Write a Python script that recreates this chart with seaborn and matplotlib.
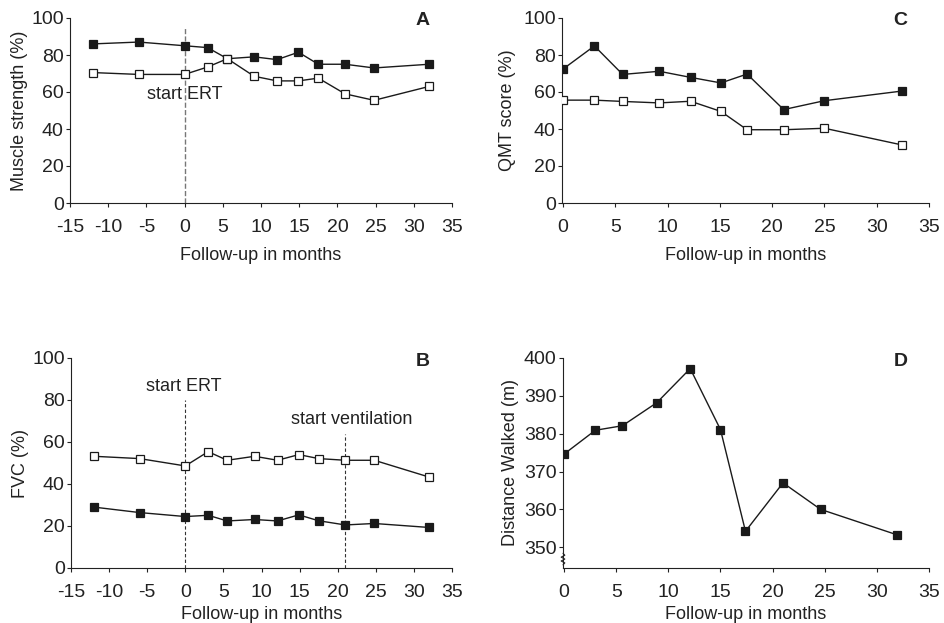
import numpy as np
import pandas as pd
import matplotlib
matplotlib.use("Agg")
import matplotlib.pyplot as plt
import seaborn as sns

sns.set_style("ticks")
plt.rcParams["font.family"] = ["Liberation Sans", "DejaVu Sans"]
plt.rcParams["axes.unicode_minus"] = False
plt.rcParams["text.color"] = "#222222"
plt.rcParams["axes.labelcolor"] = "#222222"
plt.rcParams["xtick.color"] = "#222222"
plt.rcParams["ytick.color"] = "#222222"

# Panel A: muscle strength (%)
months_a = [-12, -6, 0, 3, 5.6, 9.1, 12.1, 14.9, 17.5, 21.0, 24.8, 32.0]
strength_filled = [86, 87, 85, 84, 78, 79, 77.5, 81.5, 75, 75, 73, 75]
strength_open = [70.5, 69.5, 69.5, 73.5, 78, 68.5, 66, 66, 67.5, 59, 55.5, 63]

# Panel B: FVC (%)
months_b = [-12, -6, 0, 3, 5.5, 9.1, 12.1, 14.9, 17.5, 21.0, 24.8, 32.0]
fvc_open = [53.2, 52.1, 48.6, 55.4, 51.3, 53.2, 51.3, 54.0, 52.1, 51.3, 51.3, 43.3]
fvc_filled = [29.0, 26.4, 24.5, 25.1, 22.4, 23.1, 22.4, 25.3, 22.5, 20.5, 21.2, 19.3]

# Panel C: QMT score (%)
months_c = [0, 3, 5.7, 9.2, 12.2, 15.1, 17.6, 21.1, 25.0, 32.4]
qmt_filled = [72.4, 84.9, 69.5, 71.2, 67.9, 64.9, 69.7, 50.5, 55.3, 60.5]
qmt_open = [55.6, 55.6, 54.9, 54.1, 55.0, 49.5, 39.6, 39.6, 40.4, 31.4]

# Panel D: distance walked (m)
months_d = [0, 3.0, 5.6, 8.9, 12.1, 15.0, 17.4, 21.0, 24.6, 31.9]
distance = [374.6, 380.9, 382.1, 388.2, 397.2, 381.1, 354.2, 367.0, 360.0, 353.3]

fig = plt.figure(figsize=(9.44, 6.23), dpi=100)
W, H = 944, 623


def add_axes(left, right, top, bottom):
    return fig.add_axes([left / W, 1 - bottom / H, (right - left) / W, (bottom - top) / H])


ax_a = add_axes(70, 452, 18, 203)
ax_c = add_axes(562, 929, 18, 203)
ax_b = add_axes(71, 452, 358, 568)
ax_d = add_axes(563, 929, 358, 568)

LABEL_FS = 13
TICK_FS = 14
NOTE_FS = 13
INK = "#1a1a1a"


def series(ax, x, y, filled):
    df = pd.DataFrame({"x": x, "y": y})
    sns.lineplot(
        data=df, x="x", y="y", ax=ax, sort=False, errorbar=None,
        color=INK, linewidth=1.0, marker="s", markersize=5.5,
        markerfacecolor=INK if filled else "white",
        markeredgecolor=INK, markeredgewidth=0.9, zorder=3,
    )


def style(ax, xlim, xticks, ylim, yticks, ylabel, letter, ylabelpad, xlabelpad):
    ax.set_xlim(*xlim)
    ax.set_ylim(*ylim)
    ax.set_xticks(xticks)
    ax.set_yticks(yticks)
    ax.set_xlabel("Follow-up in months", fontsize=LABEL_FS, labelpad=xlabelpad)
    ax.set_ylabel(ylabel, fontsize=LABEL_FS, labelpad=ylabelpad)
    ax.tick_params(labelsize=TICK_FS, length=3, width=0.8, direction="out")
    ax.tick_params(axis="x", pad=8.5)
    ax.tick_params(axis="y", pad=1.5)
    for s in ("top", "right"):
        ax.spines[s].set_visible(False)
    for s in ("left", "bottom"):
        ax.spines[s].set_linewidth(0.8)
        ax.spines[s].set_color("#222222")
    ax.text(0.922, 0.985, letter, transform=ax.transAxes, ha="center", va="center",
            fontsize=14, fontweight="bold")


# A
series(ax_a, months_a, strength_filled, True)
series(ax_a, months_a, strength_open, False)
ax_a.plot([0, 0], [0, 94.5], ls="--", color="#777777", lw=1.0, zorder=1)
ax_a.text(0, 58.5, "start ERT", ha="center", va="center", fontsize=NOTE_FS, zorder=2)
style(ax_a, (-15, 35), range(-15, 36, 5), (0, 100), range(0, 101, 20),
      "Muscle strength (%)", "A", 2.5, 8)

# B
series(ax_b, months_b, fvc_open, False)
series(ax_b, months_b, fvc_filled, True)
ax_b.plot([0, 0], [0, 80], ls=(0, (3, 2)), color="#333333", lw=0.8, zorder=1)
ax_b.plot([21, 21], [0, 64], ls=(0, (3, 2)), color="#333333", lw=0.8, zorder=1)
ax_b.text(-0.2, 86.5, "start ERT", ha="center", va="center", fontsize=NOTE_FS)
ax_b.text(21.8, 70.5, "start ventilation", ha="center", va="center", fontsize=NOTE_FS)
style(ax_b, (-15, 35), range(-15, 36, 5), (0, 100), range(0, 101, 20),
      "FVC (%)", "B", 2.5, 3.5)

# C
series(ax_c, months_c, qmt_filled, True)
series(ax_c, months_c, qmt_open, False)
style(ax_c, (-0.1, 35), range(0, 36, 5), (0, 100), range(0, 101, 20),
      "QMT score (%)", "C", 5, 8)

# D
series(ax_d, months_d, distance, True)
style(ax_d, (-0.1, 35), range(0, 36, 5), (344.5, 400), range(350, 401, 10),
      "Distance Walked (m)", "D", 3.5, 3.5)
# break marker on the y axis
zx = np.array([0, 0.005, -0.005, 0.005, -0.005, 0.005, 0])
zy = np.linspace(0.015, 0.07, 7)
ax_d.plot(zx, zy, transform=ax_d.transAxes, color="#222222", lw=0.8, clip_on=False)

fig.savefig("out.png", dpi=100)
